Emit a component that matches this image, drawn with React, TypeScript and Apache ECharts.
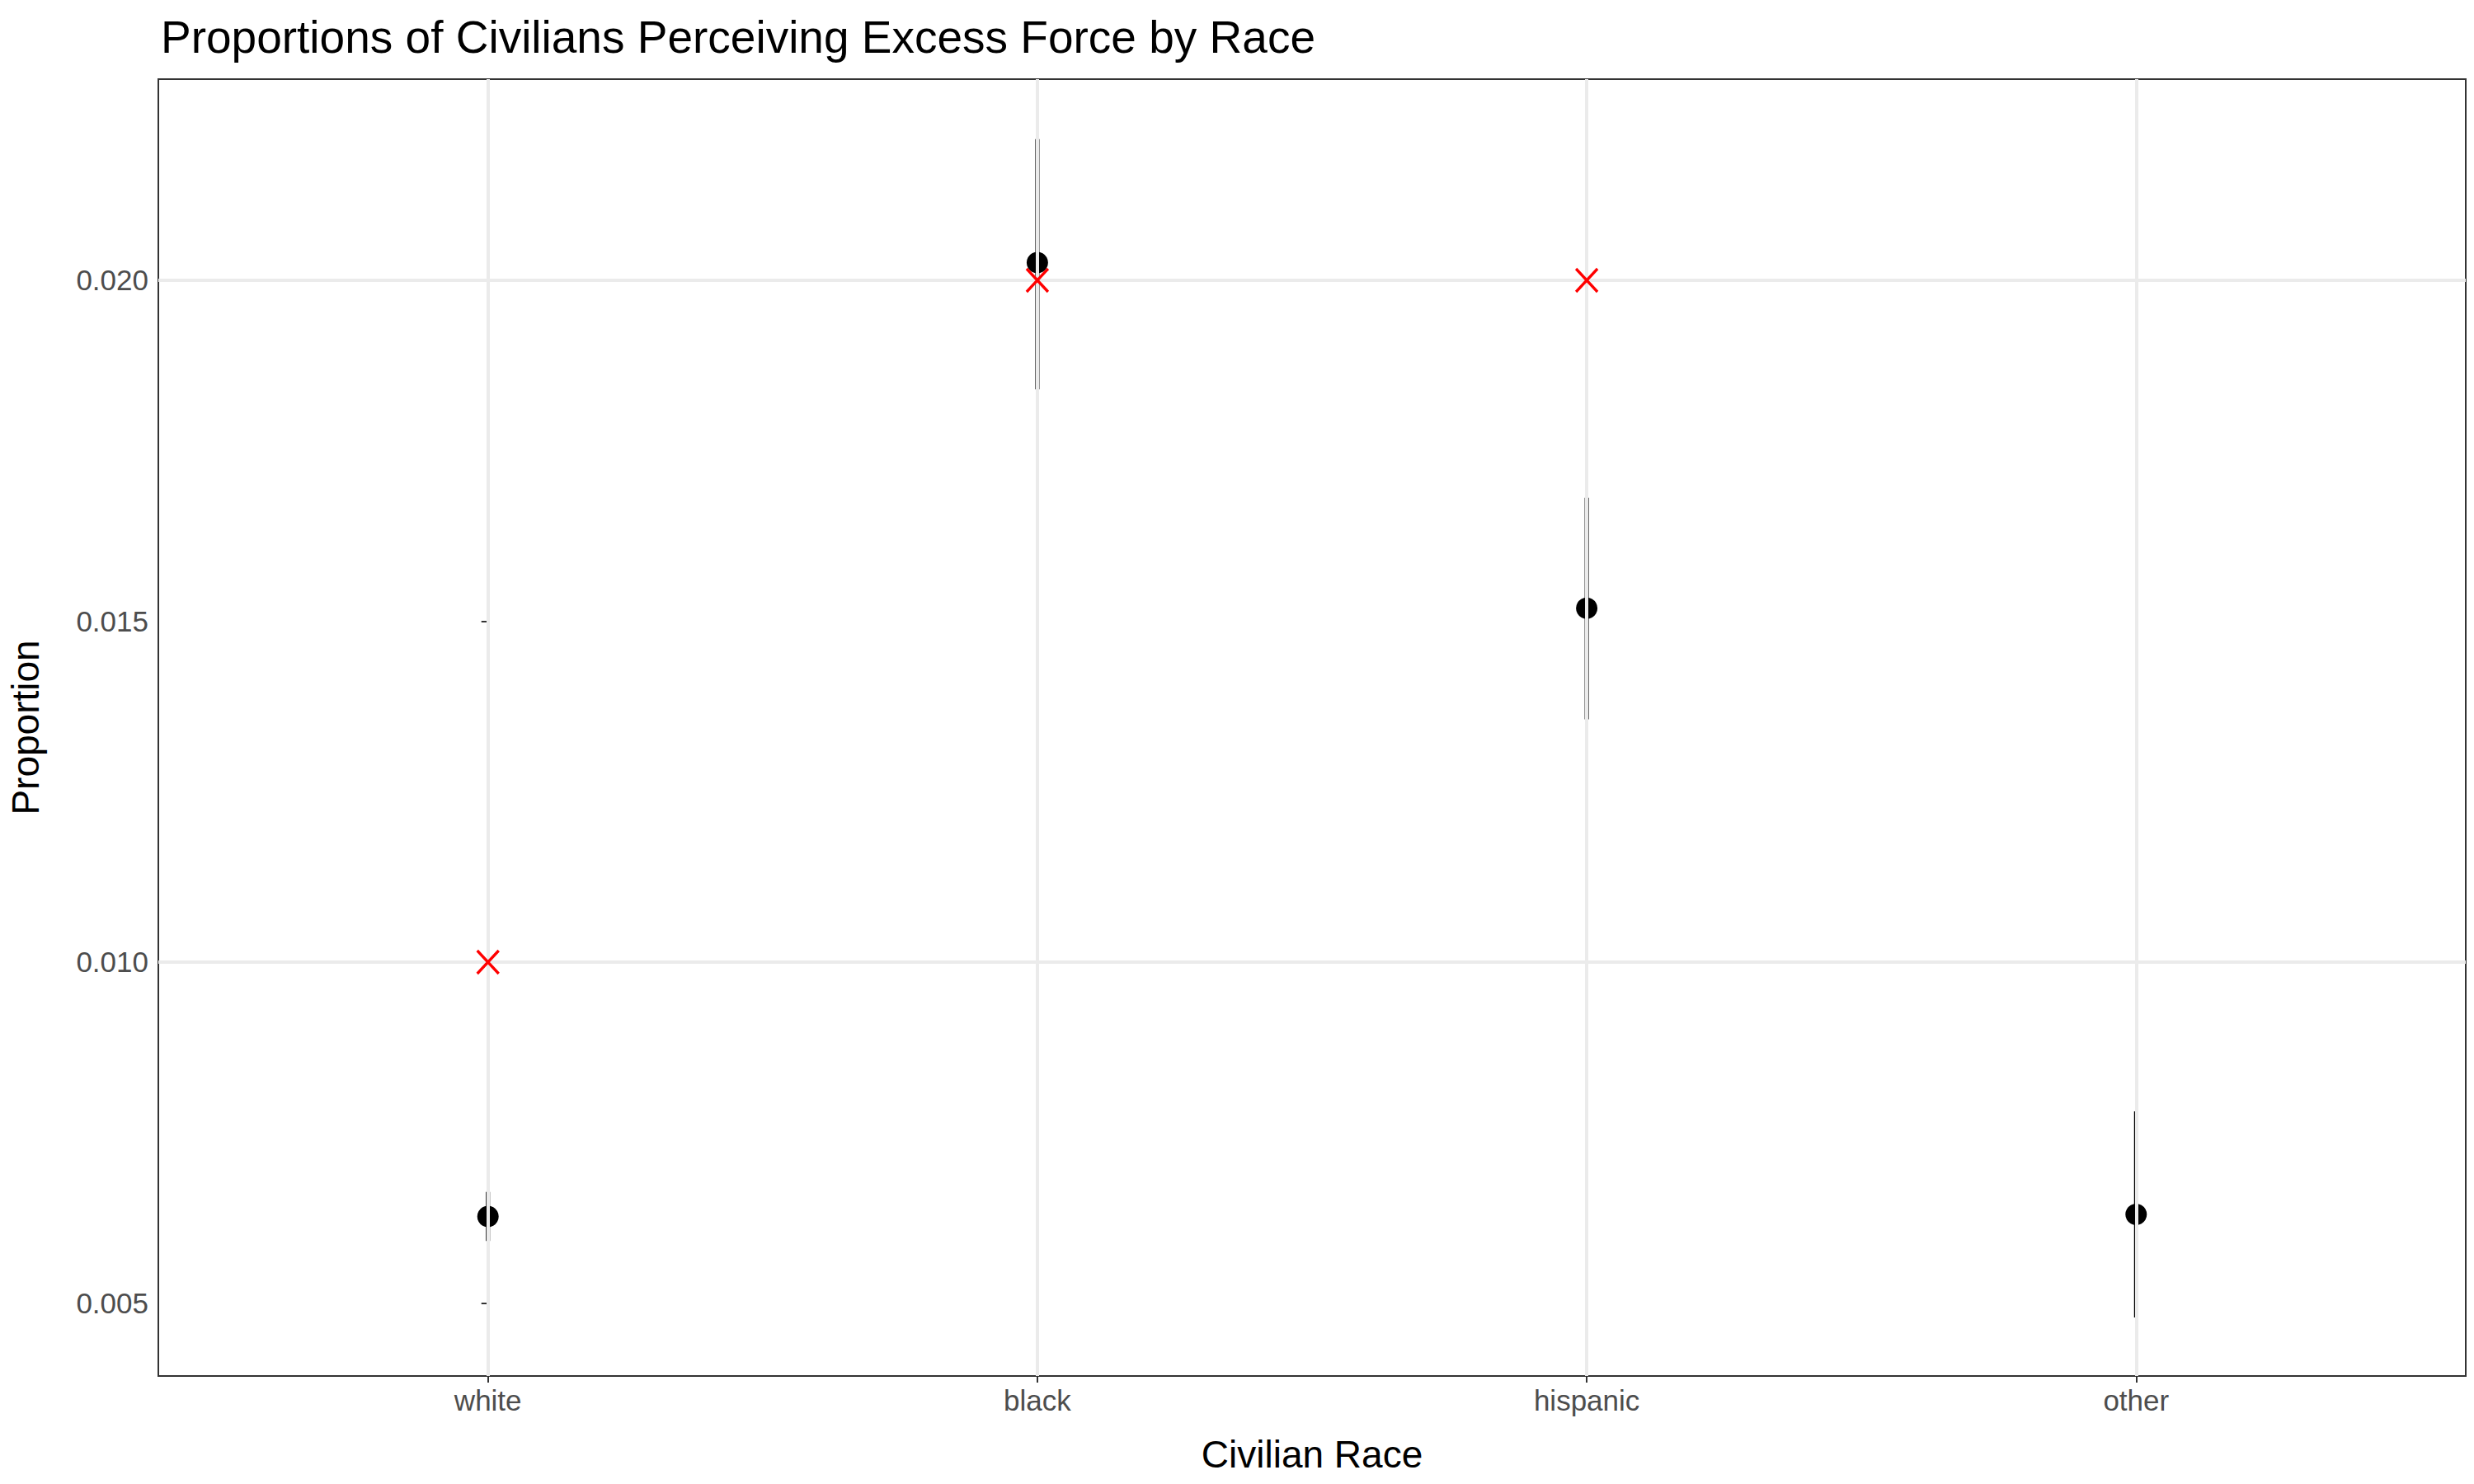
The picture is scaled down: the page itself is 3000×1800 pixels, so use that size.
import { useEffect, useRef } from "react";
import * as echarts from "echarts";

const categories = ["white", "black", "hispanic", "other"];
const proportions = [0.00627, 0.02026, 0.01519, 0.0063];
const lowerBounds = [0.00591, 0.0184, 0.01356, 0.00479];
const upperBounds = [0.00663, 0.02207, 0.01681, 0.00781];
const targets: (number | null)[] = [0.01, 0.02, 0.02, null];
const majorTicks = [0.005, 0.01, 0.015, 0.02];
const minorTicks = [0.0075, 0.0125, 0.0175, 0.0225];
const categoryIndex = categories.map((_, i) => i);

const FONT = "Liberation Sans, Arial, sans-serif";

const App = () => {
  const chartRef = useRef<HTMLDivElement>(null);

  useEffect(() => {
    document.body.style.margin = "0";
    if (!chartRef.current) return;
    const chart = echarts.init(chartRef.current, null, { renderer: "svg" });

    const gridLine = (w: number) => ({ color: "#ebebeb", width: w, type: "solid" as const });

    const option: echarts.EChartsOption = {
      animation: false,
      backgroundColor: "#fff",
      textStyle: { fontFamily: FONT },
      title: {
        text: "Proportions of Civilians Perceiving Excess Force by Race",
        left: 190,
        top: 12,
        textStyle: { fontSize: 55, fontWeight: "normal", color: "#000", fontFamily: FONT },
      },
      grid: {
        left: 190,
        right: 10,
        top: 96,
        bottom: 131,
        show: true,
        borderColor: "#333",
        borderWidth: 2,
        backgroundColor: "transparent",
      },
      xAxis: {
        type: "value",
        min: -0.6,
        max: 3.6,
        name: "Civilian Race",
        nameLocation: "middle",
        nameGap: 72,
        nameTextStyle: { fontSize: 46, color: "#000" },
        axisLine: { show: false },
        axisTick: { show: true, length: 8, lineStyle: { color: "#333", width: 2 }, customValues: categoryIndex } as any,
        axisLabel: {
          fontSize: 35,
          color: "#4d4d4d",
          margin: 12,
          customValues: categoryIndex,
          formatter: (v: number) => categories[Math.round(v)] ?? "",
        } as any,
        splitLine: { show: false },
      },
      yAxis: {
        type: "value",
        min: 0.00393,
        max: 0.02295,
        name: "Proportion",
        nameLocation: "middle",
        nameGap: 138,
        nameTextStyle: { fontSize: 46, color: "#000" },
        axisLine: { show: false },
        axisTick: { show: true, length: 8, lineStyle: { color: "#333", width: 2 }, customValues: majorTicks } as any,
        axisLabel: {
          fontSize: 35,
          color: "#4d4d4d",
          margin: 12,
          customValues: majorTicks,
          formatter: (v: number) => v.toFixed(3),
        } as any,
        splitLine: { show: false },
      },
      series: [
        {
          type: "line",
          data: [],
          silent: true,
          markLine: {
            silent: true,
            symbol: "none",
            label: { show: false },
            data: [
              ...minorTicks.map((v) => ({ yAxis: v, lineStyle: gridLine(2) })),
              ...majorTicks.map((v) => ({ yAxis: v, lineStyle: gridLine(4) })),
              ...categoryIndex.map((c) => ({ xAxis: c, lineStyle: gridLine(4) })),
            ],
          },
        },
        {
          type: "custom",
          data: categoryIndex.map((i) => [i, lowerBounds[i], upperBounds[i]]),
          renderItem: (_params: any, api: any) => {
            const lo = api.coord([api.value(0), api.value(1)]);
            const hi = api.coord([api.value(0), api.value(2)]);
            return {
              type: "line",
              shape: { x1: lo[0], y1: lo[1], x2: hi[0], y2: hi[1] },
              style: { stroke: "#000", lineWidth: 5 },
            };
          },
          z: 3,
        },
        {
          type: "scatter",
          data: proportions.map((v, i) => [i, v]),
          symbol: "circle",
          symbolSize: 26,
          itemStyle: { color: "#000", opacity: 1 },
          z: 4,
        },
        {
          type: "scatter",
          data: targets.map((v, i) => (v === null ? null : [i, v])).filter(Boolean) as number[][],
          symbol: "path://M0,0L10,11M10,0L0,11",
          symbolSize: [26, 28],
          itemStyle: { color: "none", borderColor: "#ff0000", borderWidth: 3.5, opacity: 1 },
          z: 5,
        },
      ],
    };

    chart.setOption(option);
    return () => chart.dispose();
  }, []);

  return <div ref={chartRef} style={{ width: 3000, height: 1800 }} />;
};

export default App;
